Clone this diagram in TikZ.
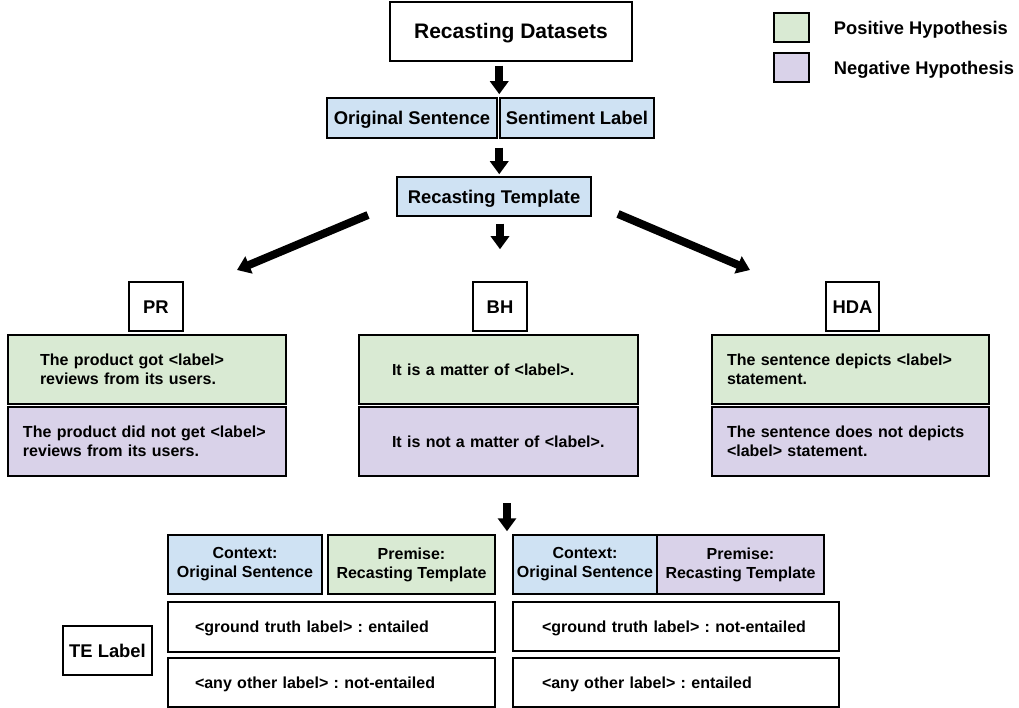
\documentclass[tikz,border=0pt]{standalone}
\usepackage{fontspec}
\setmainfont{Liberation Sans}
\usetikzlibrary{arrows.meta,positioning}
\usepackage{xcolor}
\frenchspacing

\definecolor{srcblue}{HTML}{CFE2F3}
\definecolor{posgreen}{HTML}{D9EAD3}
\definecolor{negpurple}{HTML}{D9D2E9}

\begin{document}
\begin{tikzpicture}[x=1pt,y=-1pt]
    \tikzstyle{box} = [draw=black, line width=1.5pt, inner sep=1pt, align=center, font=\fontsize{18.4}{21}\selectfont\bfseries];
    \tikzstyle{oneline} = [text height=13.2pt, text depth=0pt];
    \tikzstyle{small} = [font=\fontsize{16}{19}\selectfont\bfseries];
    \tikzstyle{onesmall} = [small, text height=11.5pt, text depth=0pt];
    \tikzstyle{hyp} = [box, small, minimum height=69pt, align=left];
    \tikzstyle{tag} = [box, oneline, minimum width=54pt, minimum height=49pt];
    \tikzstyle{bigarrow} = [-{Triangle[width=18pt,length=13pt]}, line width=8pt];

    \useasboundingbox (0,0) rectangle (1019,708);

    % top of the pipeline
    \node[box, minimum width=242pt, minimum height=59pt, text height=15pt, text depth=0pt, font=\fontsize{21}{25}\selectfont\bfseries] (title) at (511,31.5) {Recasting Datasets};
    \node[box, oneline, fill=srcblue, minimum width=170pt, minimum height=40pt] (orig) at (412,118) {Original Sentence};
    \node[box, oneline, fill=srcblue, minimum width=154pt, minimum height=40pt] (sent) at (577,118) {Sentiment Label};
    \node[box, oneline, fill=srcblue, minimum width=194pt, minimum height=39pt] (tmpl) at (494,196.5) {Recasting Template};

    % legend
    \node[box, fill=posgreen, minimum width=35pt, minimum height=29pt] (legpos) at (791.5,27.5) {};
    \node[box, fill=negpurple, minimum width=35pt, minimum height=29pt] (legneg) at (791.5,67.5) {};
    \node[font=\fontsize{18.3}{21}\selectfont\bfseries, inner sep=0pt, text height=13.2pt, text depth=0pt, right=24pt of legpos] (legpostxt) {Positive Hypothesis};
    \node[font=\fontsize{18.3}{21}\selectfont\bfseries, inner sep=0pt, text height=13.2pt, text depth=0pt, right=24pt of legneg] (legnegtxt) {Negative Hypothesis};

    % templates
    \node[tag] (PR) at (156,306.5) {PR};
    \node[tag] (BH) at (500,306.5) {BH};
    \node[tag, minimum width=53pt] (HDA) at (852.5,306.5) {HDA};

    \node[hyp, fill=posgreen, inner xsep=32pt, text width=214pt] (PRpos) at (147,369.5) {The product got <label>\\reviews from its users.};
    \node[hyp, fill=negpurple, inner xsep=15pt, text width=248pt] (PRneg) at (147,441.5) {The product did not get <label>\\reviews from its users.};
    \node[hyp, onesmall, fill=posgreen, inner xsep=33pt, text width=213pt] (BHpos) at (498.5,369.5) {It is a matter of <label>.};
    \node[hyp, onesmall, fill=negpurple, inner xsep=33pt, text width=213pt] (BHneg) at (498.5,441.5) {It is not a matter of <label>.};
    \node[hyp, fill=posgreen, inner xsep=15pt, text width=247pt] (HDApos) at (850.5,369.5) {The sentence depicts <label>\\statement.};
    \node[hyp, fill=negpurple, inner xsep=15pt, text width=247pt] (HDAneg) at (850.5,441.5) {The sentence does not depicts\\<label> statement.};

    % entailment pairs
    \node[box, small, fill=srcblue, minimum width=154pt, minimum height=59pt] (ctxL) at (245,564.5) {Context:\\Original Sentence};
    \node[box, small, fill=posgreen, minimum width=167pt, minimum height=59pt] (premL) at (411.5,564.5) {Premise:\\Recasting Template};
    \node[box, small, fill=srcblue, minimum width=144pt, minimum height=59pt] (ctxR) at (585,564.5) {Context:\\Original Sentence};
    \node[box, small, fill=negpurple, minimum width=167pt, minimum height=59pt] (premR) at (740.5,564.5) {Premise:\\Recasting Template};

    \node[box, onesmall, align=left, minimum height=50pt, inner xsep=27pt, text width=273pt] (rowL1) at (331.5,627) {<ground truth label> : entailed};
    \node[box, onesmall, align=left, minimum height=49pt, inner xsep=27pt, text width=273pt] (rowL2) at (331.5,682.5) {<any other label> : not-entailed};
    \node[box, onesmall, align=left, minimum height=49pt, inner xsep=29pt, text width=268pt] (rowR1) at (676,626.5) {<ground truth label> : not-entailed};
    \node[box, onesmall, align=left, minimum height=49pt, inner xsep=29pt, text width=268pt] (rowR2) at (676,682.5) {<any other label> : entailed};

    \node[box, oneline, minimum width=89pt, minimum height=49pt] (TE) at (107.5,650.5) {TE Label};

    % arrows
    \coordinate (leftstart) at (368,215);
    \coordinate (leftend) at (237,270);
    \coordinate (rightstart) at (618,214);
    \coordinate (rightend) at (750,270);
    \coordinate (pairtop) at (507,503);

    \draw[bigarrow, shorten <=4pt, shorten >=3pt] (title.south -| sent.west) -- (sent.north west);
    \draw[bigarrow, shorten <=9pt, shorten >=2pt] (sent.south west) -- (sent.south west |- tmpl.north);
    \draw[bigarrow, shorten <=7pt, shorten >=32pt] (tmpl.south -| BH.north) -- (BH.north);
    \draw[bigarrow] (leftstart) -- (leftend);
    \draw[bigarrow] (rightstart) -- (rightend);
    \draw[bigarrow, shorten >=3pt] (pairtop) -- (pairtop |- ctxR.north);
\end{tikzpicture}
\end{document}
